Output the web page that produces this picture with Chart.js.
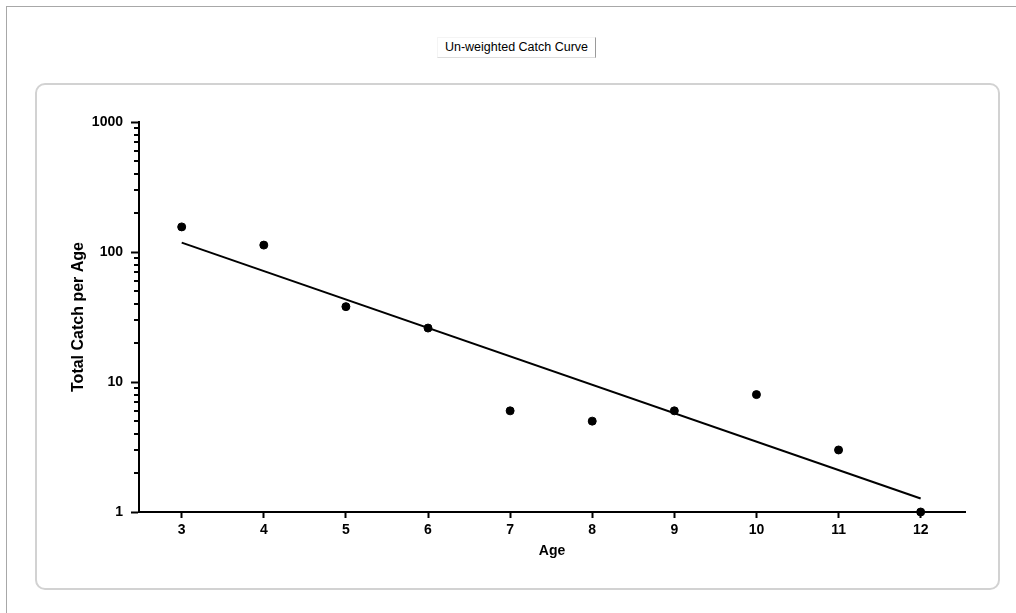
<!DOCTYPE html>
<html>
<head>
<meta charset="utf-8">
<script src="https://cdn.jsdelivr.net/npm/chart.js@4/dist/chart.umd.min.js"></script>
<style>
  html, body { margin: 0; padding: 0; background: #fff; }
  body { width: 1016px; height: 613px; position: relative; overflow: hidden; font-family: "Liberation Sans", Arial, sans-serif; }
  .frame { position: absolute; left: 6px; top: 6px; right: -10px; bottom: -10px; border-top: 1px solid #a8a8a8; border-left: 1px solid #a8a8a8; }
  .caption { position: absolute; left: 437px; top: 37px; width: 157px; height: 19px; border-top: 1px solid #f4f4f4; border-left: 1px solid #f4f4f4;
             border-right: 1px solid #9a9a9a; border-bottom: 1px solid #dcdcdc; font-size: 12.5px; line-height: 19px; text-align: center; color: #000; }
  .panel { position: absolute; left: 35px; top: 83px; width: 961px; height: 503px; border: 2px solid #d2d2d2; border-radius: 10px; }
  #chart { position: absolute; left: 0; top: 0; }
</style>
</head>
<body>
<div class="frame"></div>
<div class="caption">Un-weighted Catch Curve</div>
<div class="panel"></div>
<canvas id="chart" width="1016" height="613"></canvas>
<script>
/* Catch curve: catch per age on a log axis, with the fitted regression line. */

const ages = [3, 4, 5, 6, 7, 8, 9, 10, 11, 12];
const catchPerAge = [156, 113, 38, 26, 6, 5, 6, 8, 3, 1];
const fitAges = [3, 12];
const fitCatch = [118, 1.27];
const yDecades = [1, 10, 100, 1000];

const isDecade = v => Math.abs(Math.log10(v) - Math.round(Math.log10(v))) < 1e-9;

// short minor ticks (2..9 of each decade) on the log axis
const minorTicks = {
  id: 'minorTicks',
  afterDraw(chart) {
    const y = chart.scales.y, ctx = chart.ctx;
    const x0 = chart.chartArea.left;
    ctx.save();
    ctx.strokeStyle = '#000';
    ctx.lineWidth = 2;
    y.ticks.forEach(t => {
      if (isDecade(t.value)) return;
      const py = Math.round(y.getPixelForValue(t.value));
      ctx.beginPath();
      ctx.moveTo(x0 - 5, py);
      ctx.lineTo(x0, py);
      ctx.stroke();
    });
    ctx.restore();
  }
};

const points = ages.map((a, i) => ({ x: a, y: catchPerAge[i] }));
const fit = fitAges.map((a, i) => ({ x: a, y: fitCatch[i] }));

const tickFont = { family: 'Liberation Sans', size: 14, weight: 'bold' };

new Chart(document.getElementById('chart'), {
  type: 'scatter',
  data: { datasets: [
    { data: points, backgroundColor: '#000', borderColor: '#000', pointRadius: 4, pointHoverRadius: 4, clip: false },
    { data: fit, showLine: true, borderColor: '#000', borderWidth: 2, pointRadius: 0, fill: false, clip: false }
  ] },
  options: {
    responsive: false,
    animation: false,
    layout: { padding: { left: 0, top: 122, right: 51, bottom: 0 } },
    plugins: { legend: { display: false }, tooltip: { enabled: false } },
    scales: {
      x: {
        type: 'linear', min: 2.48, max: 12.54,
        afterBuildTicks: s => { s.ticks = ages.map(v => ({ value: v })); },
        afterFit: s => { s.height = 101; },
        grid: { drawOnChartArea: false, tickLength: 6, tickWidth: 2, tickColor: '#000' },
        border: { color: '#000', width: 2 },
        ticks: { color: '#000', padding: 4, font: tickFont },
        title: { display: true, text: 'Age', color: '#000', padding: { top: 0, bottom: 53 },
                 font: { family: 'Liberation Sans', size: 14, weight: 'bold' } }
      },
      y: {
        type: 'logarithmic', min: 1, max: 1000,
        afterBuildTicks: s => {
          const t = [];
          yDecades.forEach(d => { for (let k = 1; k < 10; k++) if (d * k <= 1000) t.push({ value: d * k }); });
          s.ticks = t;
        },
        afterFit: s => { s.width = 139; },
        grid: { drawOnChartArea: false, tickLength: 8, tickWidth: 2,
                tickColor: c => (c.tick && isDecade(c.tick.value)) ? '#000' : 'rgba(0,0,0,0)' },
        border: { color: '#000', width: 2 },
        ticks: { color: '#000', padding: 8, autoSkip: false, font: tickFont,
                 callback: v => isDecade(v) ? String(Math.round(v)) : '' },
        title: { display: true, text: 'Total Catch per Age', color: '#000', padding: { top: 69, bottom: 0 },
                 font: { family: 'Liberation Sans', size: 16, weight: 'bold' } }
      }
    }
  },
  plugins: [minorTicks]
});
</script>
</body>
</html>
